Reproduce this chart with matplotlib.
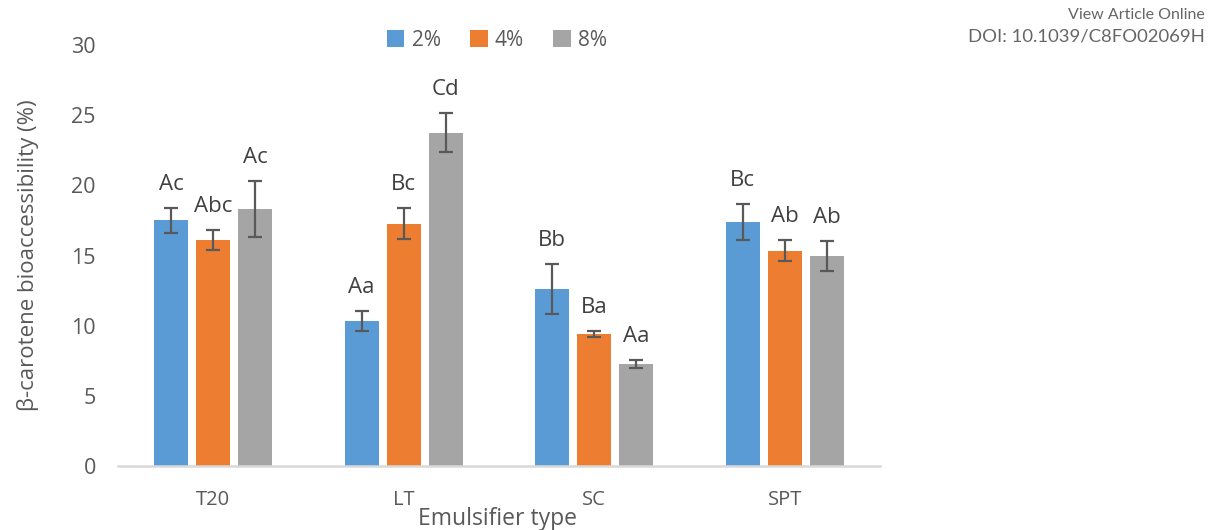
import numpy as np
import matplotlib.pyplot as plt

plt.rcParams['font.family'] = ['Open Sans', 'DejaVu Sans']

emulsifiers = ['T20', 'LT', 'SC', 'SPT']
conc_labels = ['2%', '4%', '8%']
colors = ['#5B9BD5', '#ED7D31', '#A5A5A5']

# mean bioaccessibility (%) and error per concentration
vals_2 = [17.5, 10.35, 12.6, 17.4]
vals_4 = [16.1, 17.25, 9.4, 15.35]
vals_8 = [18.3, 23.75, 7.27, 14.97]
err_2 = [0.9, 0.7, 1.8, 1.27]
err_4 = [0.7, 1.1, 0.2, 0.72]
err_8 = [2.0, 1.4, 0.3, 1.07]
letters_2 = ['Ac', 'Aa', 'Bb', 'Bc']
letters_4 = ['Abc', 'Bc', 'Ba', 'Ab']
letters_8 = ['Ac', 'Cd', 'Aa', 'Ab']

text_col = '#595959'

fig = plt.figure(figsize=(12.08, 5.30), dpi=100)
ax = fig.add_axes([118/1208, 1 - 466/530, 762/1208, 421/530])

x = np.arange(len(emulsifiers))
width = 0.179
offsets = [-0.221, 0, 0.221]
series = [(vals_2, err_2, letters_2), (vals_4, err_4, letters_4), (vals_8, err_8, letters_8)]

for (v, e, lt), off, c, lab in zip(series, offsets, colors, conc_labels):
    ax.bar(x + off, v, width, color=c, label=lab, zorder=2)
    ax.errorbar(x + off, v, yerr=e, fmt='none', ecolor=text_col, elinewidth=1.6,
                capsize=5, capthick=1.6, zorder=3)
    for xi, vi, ei, t in zip(x + off, v, e, lt):
        ax.annotate(t, (xi, vi + ei), xytext=(0, 17), textcoords='offset points',
                    ha='center', va='center', fontsize=16, color='#404040')

ax.set_xlim(-0.5, 3.5)
ax.set_ylim(0, 30)
ax.set_yticks(range(0, 31, 5))
ax.set_xticks(x)
ax.set_xticklabels(emulsifiers)
for s in ['top', 'right', 'left']:
    ax.spines[s].set_visible(False)
ax.spines['bottom'].set_color('#D9D9D9')
ax.spines['bottom'].set_linewidth(1.8)
ax.tick_params(axis='y', length=0, pad=16, labelsize=15.5, labelcolor=text_col)
ax.tick_params(axis='x', length=0, pad=17, labelsize=14.5, labelcolor=text_col)

fig.text(28/1208, 1 - 255/530, 'β-carotene bioaccessibility (%)', rotation=90,
         ha='center', va='center', fontsize=16, color=text_col)
fig.text(498/1208, 1 - 519/530, 'Emulsifier type', ha='center', va='center',
         fontsize=16.5, color=text_col)

ax.legend(loc='center', bbox_to_anchor=(497/1208, 1 - 40/530), bbox_transform=fig.transFigure,
          ncol=3, frameon=False, fontsize=15, handlelength=0.85, handleheight=0.85,
          handletextpad=0.35, columnspacing=1.4, labelcolor=text_col)

fig.text(1205/1208, 1 - 15/530, 'View Article Online', ha='right', va='center',
         fontsize=11.5, color='#666666', family=['Lato', 'DejaVu Sans'])
fig.text(1205/1208, 1 - 37/530, 'DOI: 10.1039/C8FO02069H', ha='right', va='center',
         fontsize=13.3, color='#666666', family=['Lato', 'DejaVu Sans'])

fig.savefig('out.png', dpi=100)
